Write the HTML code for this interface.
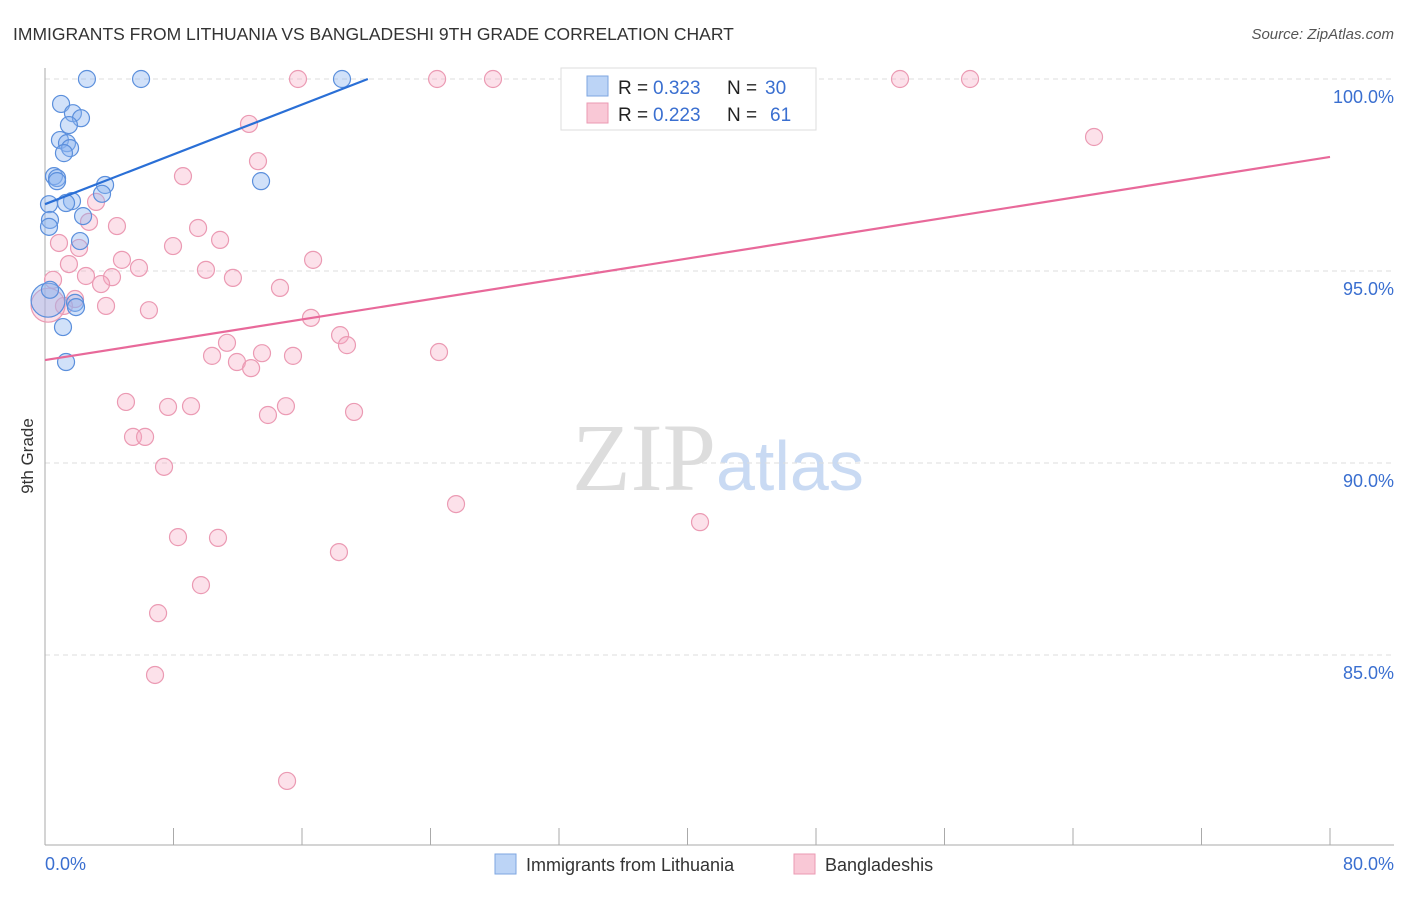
<!DOCTYPE html>
<html><head><meta charset="utf-8">
<style>
body{margin:0;background:#fff;font-family:"Liberation Sans",sans-serif;}
svg text{font-family:"Liberation Sans",sans-serif;}
</style></head>
<body>
<svg id="chart" width="1406" height="892" viewBox="0 0 1406 892" xmlns="http://www.w3.org/2000/svg">
<rect width="1406" height="892" fill="#fff"/>
<text x="13" y="40" font-size="17.5" fill="#333">IMMIGRANTS FROM LITHUANIA VS BANGLADESHI 9TH GRADE CORRELATION CHART</text>
<text x="1394" y="39" font-size="15" fill="#555" text-anchor="end" font-style="italic">Source: ZipAtlas.com</text>
<text x="716" y="490" font-size="96" text-anchor="end" fill="#ddd" style="font-family:'Liberation Serif',serif">ZIP</text>
<text x="716" y="490" font-size="70" fill="#c9daf3">atlas</text>
<g id="grid"></g>
<g id="axes"></g>
<g id="pts"></g>
<g id="lines"></g>
<text transform="translate(33,456) rotate(-90)" font-size="17" fill="#333" text-anchor="middle">9th Grade</text>
<text x="45" y="870" font-size="18" fill="#3a6fd0">0.0%</text>
<text x="1394" y="870" font-size="18" fill="#3a6fd0" text-anchor="end">80.0%</text>
<g>
<rect x="561" y="68" width="255" height="62" fill="#fff" stroke="#ddd"/>
<rect x="587" y="76" width="21" height="20" fill="#bcd4f6" stroke="#7ea6e0"/>
<rect x="587" y="103" width="21" height="20" fill="#f9c8d6" stroke="#eb9ab3"/>
<text x="618" y="94" font-size="19" fill="#222">R =</text>
<text x="653" y="94" font-size="19" fill="#3a6fd0">0.323</text>
<text x="727" y="94" font-size="19" fill="#222">N =</text>
<text x="765" y="94" font-size="19" fill="#3a6fd0">30</text>
<text x="618" y="121" font-size="19" fill="#222">R =</text>
<text x="653" y="121" font-size="19" fill="#3a6fd0">0.223</text>
<text x="727" y="121" font-size="19" fill="#222">N =</text>
<text x="770" y="121" font-size="19" fill="#3a6fd0">61</text>
</g>
<g>
<rect x="495" y="854" width="21" height="20" fill="#bcd4f6" stroke="#7ea6e0"/>
<text x="526" y="871" font-size="18" fill="#333">Immigrants from Lithuania</text>
<rect x="794" y="854" width="21" height="20" fill="#f9c8d6" stroke="#eb9ab3"/>
<text x="825" y="871" font-size="18" fill="#333">Bangladeshis</text>
</g>
</svg>
<script>
const yTicks=[100,95,90,85];
const yTickLabels=["100.0%","95.0%","90.0%","85.0%"];
const blueX=[2.61,5.98,18.49,1.0,1.74,2.24,1.49,0.93,1.37,1.56,1.18,0.56,0.75,0.75,3.74,3.55,1.68,0.25,1.31,2.37,0.31,0.25,2.18,0.19,1.87,1.93,1.12,1.31,13.45,0.31];
const blueY=[100,100,100,99.35,99.11,98.98,98.80,98.41,98.33,98.20,98.07,97.47,97.42,97.34,97.24,97.01,96.82,96.74,96.77,96.43,96.33,96.15,95.78,94.24,94.17,94.06,93.54,92.63,97.34,94.51];
const blueSize=[1,1,1,1,1,1,1,1,1,1,1,1,1,1,1,1,1,1,1,1,1,1,1,2,1,1,1,1,1,1];
const pinkX=[15.75,24.41,27.89,53.23,57.59,65.31,12.70,13.26,8.59,3.18,2.74,4.48,9.53,10.90,0.87,7.97,2.12,16.69,1.49,4.79,5.85,10.02,0.50,2.55,4.17,11.70,3.49,14.63,1.87,1.18,3.80,6.47,16.56,11.33,18.37,18.80,10.40,13.51,15.44,24.53,11.95,12.83,5.04,7.66,9.09,15.00,13.88,19.24,5.48,6.23,7.41,25.59,40.78,8.28,10.77,18.30,9.71,7.04,6.85,15.07,0.19];
const pinkY=[100,100,100,100,100,98.49,98.83,97.86,97.47,96.80,96.28,96.17,96.12,95.81,95.73,95.65,95.60,95.29,95.18,95.29,95.08,95.03,94.77,94.87,94.84,94.82,94.66,94.56,94.27,94.09,94.09,93.98,93.78,93.13,93.33,93.07,92.79,92.86,92.79,92.89,92.63,92.47,91.59,91.46,91.48,91.48,91.25,91.33,90.68,90.68,89.90,88.93,88.46,88.07,88.05,87.68,86.82,86.09,84.48,81.72,94.11];
const blueLine=[[0,96.74],[20.1,100]];
const pinkLine=[[0,92.68],[80,97.97]];
const NS="http://www.w3.org/2000/svg";
const xs=v=>45+v/80*1285;
const ys=v=>79+(100-v)*38.4;
function mk(tag,attrs,parent){const e=document.createElementNS(NS,tag);for(const k in attrs)e.setAttribute(k,attrs[k]);document.getElementById(parent).appendChild(e);return e;}
yTicks.forEach((t,i)=>{
  const l=mk('line',{x1:45,x2:1394,y1:ys(t),y2:ys(t),stroke:'#ddd','stroke-dasharray':'5,4'},'grid');
  
  
  const tx=mk('text',{x:1394,y:ys(t)+24,'font-size':18,fill:'#3a6fd0','text-anchor':'end'},'grid');
  tx.textContent=yTickLabels[i];
  
  
});
const ax=mk('line',{x1:45,x2:45,y1:68,y2:845,stroke:'#aaa'},'axes');


const bx=mk('line',{x1:45,x2:1394,y1:845,y2:845,stroke:'#aaa'},'axes');


for(let i=0;i<=10;i++){
  const t=mk('line',{x1:xs(i*8),x2:xs(i*8),y1:828,y2:845,stroke:'#aaa'},'axes');
  
  
}
pinkX.forEach((x,i)=>{
  const c=mk('circle',{cx:xs(x),cy:ys(pinkY[i]),r:i==pinkX.length-1?17:8.5,fill:'rgba(246,170,195,0.35)',stroke:'#eb9ab3','stroke-width':1.2},'pts');
  
  
});
blueX.forEach((x,i)=>{
  const c=mk('circle',{cx:xs(x),cy:ys(blueY[i]),r:8.5*blueSize[i],fill:'rgba(140,180,240,0.4)',stroke:'#5b8fdc','stroke-width':1.2},'pts');
  
  
});
const bl=mk('line',{x1:xs(blueLine[0][0]),y1:ys(blueLine[0][1]),x2:xs(blueLine[1][0]),y2:ys(blueLine[1][1]),stroke:'#2a6fd6','stroke-width':2.2},'lines');


const pl=mk('line',{x1:xs(pinkLine[0][0]),y1:ys(pinkLine[0][1]),x2:xs(pinkLine[1][0]),y2:ys(pinkLine[1][1]),stroke:'#e8699a','stroke-width':2.2},'lines');


</script>
</body></html>
